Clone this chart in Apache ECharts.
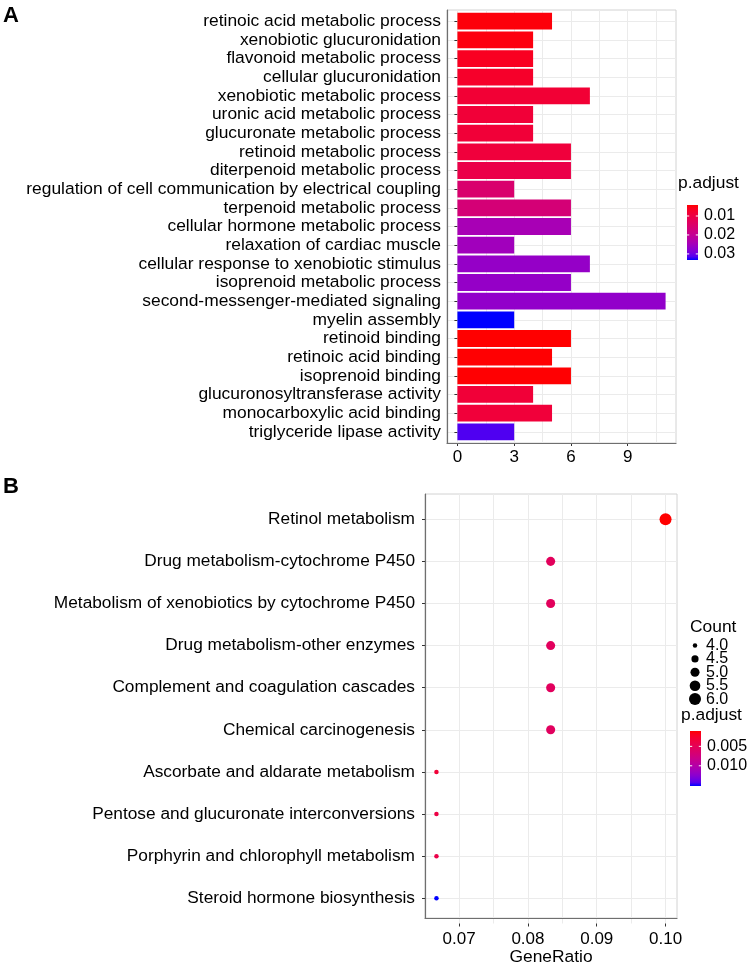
<!DOCTYPE html>
<html>
<head>
<meta charset="utf-8">
<script src="https://cdn.jsdelivr.net/npm/echarts@6/dist/echarts.min.js"></script>
<style>html,body{margin:0;padding:0;background:#fff}#c{width:750px;height:967px}</style>
</head>
<body>
<div id="c"></div>
<script>
// ---------------- DATA ----------------
const catsA = [
  'retinoic acid metabolic process','xenobiotic glucuronidation','flavonoid metabolic process',
  'cellular glucuronidation','xenobiotic metabolic process','uronic acid metabolic process',
  'glucuronate metabolic process','retinoid metabolic process','diterpenoid metabolic process',
  'regulation of cell communication by electrical coupling','terpenoid metabolic process',
  'cellular hormone metabolic process','relaxation of cardiac muscle',
  'cellular response to xenobiotic stimulus','isoprenoid metabolic process',
  'second-messenger-mediated signaling','myelin assembly','retinoid binding',
  'retinoic acid binding','isoprenoid binding','glucuronosyltransferase activity',
  'monocarboxylic acid binding','triglyceride lipase activity'
];
const countsA = [5,4,4,4,7,4,4,6,6,3,6,6,3,7,6,11,3,6,5,6,4,5,3];
const padjA = [0.0048,0.0051,0.0062,0.0071,0.0083,0.0086,0.0086,0.0091,0.0106,0.0152,0.0164,
               0.0242,0.0251,0.0265,0.0265,0.0268,0.0332,0.0042,0.0043,0.0043,0.0086,0.0088,0.0315];
const xTicksA = [0,3,6,9];
const xTickLabelsA = ['0','3','6','9'];
const legendBreaksA = [0.01,0.02,0.03];
const legendLabelsA = ['0.01','0.02','0.03'];

const catsB = [
  'Retinol metabolism','Drug metabolism-cytochrome P450',
  'Metabolism of xenobiotics by cytochrome P450','Drug metabolism-other enzymes',
  'Complement and coagulation cascades','Chemical carcinogenesis',
  'Ascorbate and aldarate metabolism','Pentose and glucuronate interconversions',
  'Porphyrin and chlorophyll metabolism','Steroid hormone biosynthesis'
];
const ratioB = [0.1000,0.0833,0.0833,0.0833,0.0833,0.0833,0.0667,0.0667,0.0667,0.0667];
const countB = [6,5,5,5,5,5,4,4,4,4];
const padjB = [0.00105,0.0053,0.0053,0.0054,0.0054,0.0055,0.0032,0.0039,0.0042,0.0152];
const xTicksB = [0.07,0.08,0.09,0.10];
const xTickLabelsB = ['0.07','0.08','0.09','0.10'];
const legendBreaksB = [0.005,0.010];
const legendLabelsB = ['0.005','0.010'];
const countBreaks = [4.0,4.5,5.0,5.5,6.0];
const countLabels = ['4.0','4.5','5.0','5.5','6.0'];

// ---------------- STYLE / LAYOUT ----------------
const FONT = "'Liberation Sans', Arial, Helvetica, sans-serif";
const GRID_COL = '#ebebeb', AXIS_COL = '#6f6f6f', BORDER_COL = '#d2d2d2', TICK_COL = '#333';

// Lab interpolation red -> blue (like ggplot's gradient)
function lab2rgb(L,a,b){
  const fy=(L+16)/116, fx=fy+a/500, fz=fy-b/200;
  const f=t=> t>0.206893 ? t*t*t : (t-16/116)/7.787;
  const X=0.95047*f(fx), Y=f(fy), Z=1.08883*f(fz);
  const r=3.2404542*X-1.5371385*Y-0.4985314*Z;
  const g=-0.9692660*X+1.8760108*Y+0.0415560*Z;
  const bb=0.0556434*X-0.2040259*Y+1.0572252*Z;
  const gam=v=>{v=Math.max(0,Math.min(1,v));return v<=0.0031308?12.92*v:1.055*Math.pow(v,1/2.4)-0.055;};
  return 'rgb('+Math.round(gam(r)*255)+','+Math.round(gam(g)*255)+','+Math.round(gam(bb)*255)+')';
}
const LAB_LO=[53.24,80.09,67.20], LAB_HI=[32.30,79.19,-107.86];
const NST=16;
const gradColors=[];
for(let i=0;i<=NST;i++){const t=i/NST;gradColors.push(lab2rgb(LAB_LO[0]+(LAB_HI[0]-LAB_LO[0])*t,LAB_LO[1]+(LAB_HI[1]-LAB_LO[1])*t,LAB_LO[2]+(LAB_HI[2]-LAB_LO[2])*t));}
const gradStops=gradColors.map((c,i)=>({offset:i/NST,color:c}));

function expand(lo,hi){const r=hi-lo;return [lo-0.05*r,hi+0.05*r];}
function dotSize(c){const dmin=4.5,dmax=12;return Math.sqrt(dmin*dmin+(c-4)/2*(dmax*dmax-dmin*dmin));}

const grids=[], xAxes=[], yAxes=[];
const hiddenAxis=(type,extra)=>Object.assign({type:type||'value',show:false},extra||{});

function addPanel(P){
  const n=P.cats.length, band=(P.B-P.T)/(n-1+1.2);
  const ppu=(P.R-P.L)/(P.xr[1]-P.xr[0]);
  const px=v=>P.L+(v-P.xr[0])*ppu;
  const gi=grids.length;
  // 0: frame + axis lines
  grids.push({left:P.L,top:P.T,width:P.R-P.L,height:P.B-P.T,show:true,borderColor:BORDER_COL,borderWidth:1,backgroundColor:'transparent',containLabel:false});
  xAxes.push({gridIndex:gi,type:'value',min:0,max:1,z:5,axisLine:{show:true,lineStyle:{color:AXIS_COL,width:1.2}},axisTick:{show:false},axisLabel:{show:false},splitLine:{show:false},
    name:P.xName||'',nameLocation:'middle',nameGap:31,nameTextStyle:{fontFamily:FONT,fontSize:17.4,color:'#000'}});
  yAxes.push({gridIndex:gi,type:'value',min:0,max:1,z:5,axisLine:{show:true,lineStyle:{color:AXIS_COL,width:1.2}},axisTick:{show:false},axisLabel:{show:false},splitLine:{show:false}});
  // 1: vertical split lines (major+minor)
  const k0=Math.ceil(P.xr[0]/P.minorStep-1e-9), k1=Math.floor(P.xr[1]/P.minorStep+1e-9);
  grids.push({left:px(k0*P.minorStep),top:P.T,width:(k1-k0)*P.minorStep*ppu,height:P.B-P.T});
  xAxes.push({gridIndex:gi+1,type:'value',min:k0,max:k1,interval:1,axisLine:{show:false},axisTick:{show:false},axisLabel:{show:false},splitLine:{show:true,lineStyle:{color:GRID_COL,width:1}}});
  yAxes.push(hiddenAxis('value',{gridIndex:gi+1}));
  // 2: horizontal split lines at category centres
  grids.push({left:P.L,top:P.T+0.6*band,width:P.R-P.L,height:(n-1)*band});
  xAxes.push(hiddenAxis('value',{gridIndex:gi+2}));
  yAxes.push({gridIndex:gi+2,type:'value',min:0,max:n-1,interval:1,axisLine:{show:false},axisTick:{show:false},axisLabel:{show:false},splitLine:{show:true,lineStyle:{color:GRID_COL,width:1}}});
  // 3: x tick labels
  const t0=P.ticks[0], t1=P.ticks[P.ticks.length-1];
  grids.push({left:px(t0),top:P.T,width:px(t1)-px(t0),height:P.B-P.T});
  xAxes.push({gridIndex:gi+3,type:'value',min:0,max:P.ticks.length-1,interval:1,axisLine:{show:false},
    axisTick:{show:true,length:3,lineStyle:{color:TICK_COL,width:1}},
    axisLabel:{show:true,margin:P.xMargin,fontFamily:FONT,fontSize:17,color:'#000',formatter:(v)=>P.tickLabels[Math.round(v)]},splitLine:{show:false}});
  yAxes.push(hiddenAxis('value',{gridIndex:gi+3}));
  // 4: data grid (category y)
  grids.push({left:P.L,top:P.T+0.1*band,width:P.R-P.L,height:n*band});
  xAxes.push(hiddenAxis('value',{gridIndex:gi+4,min:P.xr[0],max:P.xr[1]}));
  yAxes.push({gridIndex:gi+4,type:'category',data:P.cats,inverse:true,axisLine:{show:false},
    axisTick:{show:true,alignWithLabel:true,length:3,lineStyle:{color:TICK_COL,width:1}},
    axisLabel:{show:true,interval:0,margin:P.yMargin,fontFamily:FONT,fontSize:P.yFont,color:'#000'},splitLine:{show:false}});
  return {dataIndex:gi+4};
}

const PA={L:447,R:676,T:10,B:443,cats:catsA,xr:expand(0,Math.max(...countsA)),minorStep:(xTicksA[1]-xTicksA[0])/2,
  ticks:xTicksA,tickLabels:xTickLabelsA,yMargin:6,xMargin:6,yFont:17.4};
const PB={L:425,R:677,T:494,B:923.5,cats:catsB,xr:expand(Math.min(...ratioB),Math.max(...ratioB)),minorStep:(xTicksB[1]-xTicksB[0])/2,
  ticks:xTicksB,tickLabels:xTickLabelsB,yMargin:10,xMargin:7,yFont:17.3,xName:'GeneRatio'};
const gA=addPanel(PA), gB=addPanel(PB);

const pA=[Math.min(...padjA),Math.max(...padjA)], pB=[Math.min(...padjB),Math.max(...padjB)];

// ---------------- LEGENDS (graphic) ----------------
const graphic=[];
const txt=(x,y,s,size,extra)=>graphic.push({type:'text',x:x,y:y,silent:true,style:Object.assign({text:s,fontFamily:FONT,fontSize:size,fill:'#000',verticalAlign:'middle',align:'left'},extra||{})});
txt(3,16,'A',22,{fontWeight:'bold'});
txt(3,487,'B',22,{fontWeight:'bold'});

function colorbar(x,y,w,h,range,breaks,labels,title,tx,ty){
  txt(tx,ty,title,17.4);
  graphic.push({type:'rect',silent:true,shape:{x:x,y:y,width:w,height:h},style:{fill:new echarts.graphic.LinearGradient(0,0,0,1,gradStops)}});
  breaks.forEach((v,i)=>{
    const yy=y+(v-range[0])/(range[1]-range[0])*h;
    graphic.push({type:'line',silent:true,shape:{x1:x,y1:yy,x2:x+2.2,y2:yy},style:{stroke:'#fff',lineWidth:1}});
    graphic.push({type:'line',silent:true,shape:{x1:x+w-2.2,y1:yy,x2:x+w,y2:yy},style:{stroke:'#fff',lineWidth:1}});
    txt(x+w+6,yy,labels[i],16);
  });
}
colorbar(687,205,11,55,pA,legendBreaksA,legendLabelsA,'p.adjust',678,183);
txt(690,627,'Count',17.4);
countBreaks.forEach((c,i)=>{
  const yy=645.5+13.4*i;
  graphic.push({type:'circle',silent:true,shape:{cx:695,cy:yy,r:dotSize(c)/2},style:{fill:'#000'}});
  txt(706,yy,countLabels[i],16);
});
colorbar(690,731,11,55,pB,legendBreaksB,legendLabelsB,'p.adjust',681,715);

// ---------------- CHART ----------------
const chart=echarts.init(document.getElementById('c'),null,{renderer:'canvas'});
chart.setOption({
  animation:false,
  backgroundColor:'#fff',
  grid:grids, xAxis:xAxes, yAxis:yAxes,
  visualMap:[
    {type:'continuous',show:false,seriesIndex:0,dimension:2,min:pA[0],max:pA[1],inRange:{color:gradColors}},
    {type:'continuous',show:false,seriesIndex:1,dimension:2,min:pB[0],max:pB[1],inRange:{color:gradColors}}
  ],
  series:[
    {type:'bar',xAxisIndex:gA.dataIndex,yAxisIndex:gA.dataIndex,barCategoryGap:'10%',z:3,
     itemStyle:{opacity:1},
     encode:{x:0,y:1},data:catsA.map((c,i)=>[countsA[i],c,padjA[i]])},
    {type:'scatter',xAxisIndex:gB.dataIndex,yAxisIndex:gB.dataIndex,z:3,symbol:'circle',
     itemStyle:{opacity:1},
     encode:{x:0,y:1},symbolSize:(v)=>dotSize(v[3]),
     data:catsB.map((c,i)=>[ratioB[i],c,padjB[i],countB[i]])}
  ],
  graphic:graphic
});
</script>
</body>
</html>
